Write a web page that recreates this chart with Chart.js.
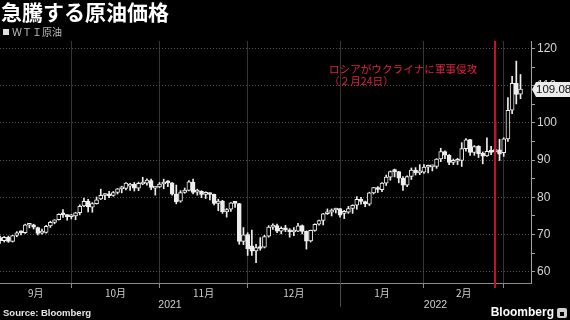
<!DOCTYPE html>
<html lang="ja">
<head>
<meta charset="utf-8">
<script src="https://cdn.jsdelivr.net/npm/chart.js@4.4.1/dist/chart.umd.min.js"></script>
<style>
  html, body { margin: 0; padding: 0; background: #000; }
  #wrap { width: 570px; height: 320px; }
</style>
</head>
<body>
<div id="wrap"><canvas id="oilChart" width="570" height="320"></canvas></div>
<script>
// WTI daily candles, Sep 7 2021 - Mar 4 2022 (trading days)
const dates = [
  "2021-09-07","2021-09-08","2021-09-09","2021-09-10","2021-09-13","2021-09-14","2021-09-15","2021-09-16","2021-09-17",
  "2021-09-20","2021-09-21","2021-09-22","2021-09-23","2021-09-24","2021-09-27","2021-09-28","2021-09-29","2021-09-30",
  "2021-10-01","2021-10-04","2021-10-05","2021-10-06","2021-10-07","2021-10-08","2021-10-11","2021-10-12","2021-10-13",
  "2021-10-14","2021-10-15","2021-10-18","2021-10-19","2021-10-20","2021-10-21","2021-10-22","2021-10-25","2021-10-26",
  "2021-10-27","2021-10-28","2021-10-29",
  "2021-11-01","2021-11-02","2021-11-03","2021-11-04","2021-11-05","2021-11-08","2021-11-09","2021-11-10","2021-11-11",
  "2021-11-12","2021-11-15","2021-11-16","2021-11-17","2021-11-18","2021-11-19","2021-11-22","2021-11-23","2021-11-24",
  "2021-11-26","2021-11-29","2021-11-30",
  "2021-12-01","2021-12-02","2021-12-03","2021-12-06","2021-12-07","2021-12-08","2021-12-09","2021-12-10","2021-12-13",
  "2021-12-14","2021-12-15","2021-12-16","2021-12-17","2021-12-20","2021-12-21","2021-12-22","2021-12-23","2021-12-27",
  "2021-12-28","2021-12-29","2021-12-30","2021-12-31",
  "2022-01-03","2022-01-04","2022-01-05","2022-01-06","2022-01-07","2022-01-10","2022-01-11","2022-01-12","2022-01-13",
  "2022-01-14","2022-01-18","2022-01-19","2022-01-20","2022-01-21","2022-01-24","2022-01-25","2022-01-26","2022-01-27",
  "2022-01-28","2022-01-31",
  "2022-02-01","2022-02-02","2022-02-03","2022-02-04","2022-02-07","2022-02-08","2022-02-09","2022-02-10","2022-02-11",
  "2022-02-14","2022-02-15","2022-02-16","2022-02-17","2022-02-18","2022-02-22","2022-02-23","2022-02-24","2022-02-25",
  "2022-02-28",
  "2022-03-01","2022-03-02","2022-03-03","2022-03-04",
];

const opens = [
  69.2, 68.4, 69.3, 68.2, 69.8, 70.5, 70.5, 72.5, 72.6, 71.9, 70.4, 70.6, 72.3, 73.3, 74.0, 75.5, 75.3, 74.8,
  75.0, 75.9, 77.7, 79.0, 77.4, 78.3, 79.6, 80.5, 80.7, 80.5, 81.3, 82.3, 82.4, 83.0, 83.5, 82.5, 83.6, 83.8, 84.5, 82.5, 82.8,
  83.6, 84.0, 83.9, 80.9, 79.0, 81.3, 81.9, 84.1, 81.4, 81.6, 80.8, 80.9, 80.8, 78.4, 79.0, 76.1, 76.8, 78.5, 78.3, 68.2, 70.0,
  67.0, 65.6, 66.6, 66.6, 69.6, 72.0, 72.4, 70.9, 71.7, 71.3, 70.7, 70.9, 72.4, 70.9, 68.3, 71.1, 72.8, 73.8, 75.6, 76.0, 76.6, 77.0,
  75.7, 76.0, 77.0, 77.9, 79.5, 78.9, 78.2, 81.2, 82.6, 82.1, 83.8, 85.4, 87.0, 86.9, 85.1, 83.3, 85.6, 87.3, 86.6, 86.8,
  88.1, 88.2, 88.3, 90.3, 92.3, 91.3, 89.4, 89.7, 89.9, 93.1, 95.5, 92.1, 93.7, 91.8, 91.1, 92.4, 92.2, 92.8, 92.0,
  95.7, 103.4, 110.6, 107.7,
];

const highs = [
  69.6, 69.5, 69.6, 69.8, 70.8, 71.0, 72.8, 73.0, 72.8, 72.0, 71.5, 72.5, 73.6, 74.0, 75.6, 76.7, 75.4, 75.4,
  76.0, 78.0, 79.8, 79.5, 78.6, 80.1, 82.2, 81.0, 81.6, 81.6, 82.4, 83.0, 84.0, 83.8, 84.0, 84.1, 85.4, 85.0, 84.9, 82.9, 84.0,
  84.9, 84.5, 84.0, 83.3, 81.8, 82.5, 84.5, 84.9, 82.2, 81.8, 81.5, 81.2, 80.9, 79.5, 79.2, 77.0, 78.6, 78.9, 78.4, 71.9, 70.5,
  71.2, 67.4, 69.2, 69.8, 72.4, 72.9, 72.8, 72.1, 72.5, 71.6, 71.9, 73.0, 72.6, 71.0, 71.2, 72.9, 73.9, 75.7, 76.9, 76.9, 77.1, 77.0,
  76.5, 77.6, 78.0, 80.2, 80.0, 79.0, 81.4, 82.7, 82.9, 84.0, 86.0, 87.1, 87.6, 87.0, 85.6, 85.8, 87.9, 88.0, 88.8, 88.8,
  88.7, 88.7, 90.4, 93.2, 92.5, 91.5, 90.3, 90.5, 94.7, 95.8, 95.6, 93.9, 93.9, 92.2, 96.0, 93.7, 100.5, 95.6, 96.0,
  106.8, 112.5, 116.6, 113.0,
];

const lows = [
  67.6, 68.0, 67.9, 68.0, 69.4, 69.9, 70.3, 71.8, 71.5, 69.9, 70.1, 70.4, 71.9, 72.9, 73.9, 74.6, 73.9, 74.2,
  74.0, 75.3, 77.5, 76.1, 76.0, 78.2, 79.4, 79.4, 79.9, 80.3, 80.9, 81.2, 82.0, 81.9, 81.7, 81.8, 83.4, 83.3, 82.1, 80.6, 82.6,
  82.3, 82.9, 80.6, 78.25, 78.7, 81.1, 81.7, 80.9, 80.6, 79.9, 79.7, 79.3, 78.0, 76.4, 75.7, 74.7, 76.2, 77.3, 67.4, 67.3, 64.4,
  64.4, 62.43, 65.8, 66.4, 69.3, 71.4, 70.5, 70.2, 70.8, 69.3, 69.7, 70.8, 70.2, 66.1, 68.0, 70.9, 72.5, 72.6, 75.4, 75.0, 75.8, 74.7,
  74.3, 75.7, 75.7, 76.8, 78.2, 77.5, 77.8, 80.9, 81.3, 81.5, 83.2, 84.6, 85.5, 83.9, 81.9, 82.9, 84.8, 86.0, 86.1, 86.4,
  86.6, 87.1, 87.8, 89.6, 90.4, 88.8, 88.8, 88.8, 88.3, 92.4, 91.3, 91.3, 90.7, 89.0, 91.0, 91.5, 92.1, 89.9, 91.0,
  95.0, 102.5, 105.1, 106.5,
];

const closes = [
  68.35, 69.30, 68.14, 69.72, 70.45, 70.46, 72.61, 72.61, 71.97, 70.29, 70.56, 72.23, 73.30, 73.98, 75.45, 75.29, 74.83, 75.03,
  75.88, 77.62, 78.93, 77.43, 78.30, 79.35, 80.52, 80.64, 80.44, 81.31, 82.28, 82.44, 83.87, 83.42, 82.50, 83.76, 83.76, 84.65, 82.66, 82.81, 83.57,
  84.05, 83.91, 80.86, 78.81, 81.27, 81.93, 84.15, 81.34, 81.59, 80.79, 80.88, 80.76, 78.36, 79.01, 76.10, 76.75, 78.50, 78.39, 68.15, 69.95, 66.18,
  65.57, 66.50, 66.26, 69.49, 72.05, 72.36, 70.94, 71.67, 71.29, 70.73, 70.87, 72.38, 70.86, 68.23, 71.12, 72.76, 73.79, 75.57, 75.98, 76.56, 76.99, 75.21,
  76.08, 76.99, 77.85, 79.46, 78.90, 78.23, 81.22, 82.64, 82.12, 83.82, 85.43, 86.96, 86.90, 85.14, 83.31, 85.60, 87.35, 86.61, 86.82, 88.15,
  88.20, 88.26, 90.27, 92.31, 91.32, 89.36, 89.66, 89.88, 93.10, 95.46, 92.07, 93.66, 91.76, 91.07, 92.35, 92.10, 92.81, 91.59, 95.72,
  103.41, 110.60, 107.67, 109.08,
];

const monthLabels = ["9月", "10月", "11月", "12月", "1月", "2月"];
const yearLabels = ["2021", "2022"];
const yTickValues = [60, 65, 70, 75, 80, 85, 90, 95, 100, 105, 110, 115, 120];
const invasionDate = "2022-02-24";

const candleColor = "#eeeeee";

// month ends -> index of the last trading day of each month
const monthEnds = [];
for (let i = 0; i < dates.length - 1; i++) {
  if (dates[i].slice(5, 7) !== dates[i + 1].slice(5, 7)) monthEnds.push(i);
}
const yearEnd = dates.findIndex((d, i) => i < dates.length - 1 && d.slice(0, 4) !== dates[i + 1].slice(0, 4));
const invasionIndex = dates.indexOf(invasionDate);

const wickData = dates.map((d, i) => ({ x: i, y: [lows[i], highs[i]] }));
const bodyData = dates.map((d, i) => ({
  x: i,
  y: [Math.min(opens[i], closes[i]), Math.max(opens[i], closes[i])],
}));

const decor = {
  id: "decor",
  beforeDraw(chart) {
    const ctx = chart.ctx;
    ctx.save();
    ctx.fillStyle = "#000";
    ctx.fillRect(0, 0, chart.width, chart.height);
    ctx.restore();
  },
  afterDatasetsDraw(chart) {
    const { ctx, chartArea, scales } = chart;
    const xs = scales.x;
    const ys = scales.y;

    // invasion marker
    const rx = Math.round(xs.getPixelForValue(invasionIndex));
    ctx.save();
    ctx.strokeStyle = "#c8102e";
    ctx.lineWidth = 2;
    ctx.beginPath();
    ctx.moveTo(rx, chartArea.top);
    ctx.lineTo(rx, chartArea.bottom + 5);
    ctx.stroke();

    ctx.fillStyle = "#e0203f";
    ctx.font = "10.6px 'Noto Sans CJK JP'";
    ctx.textBaseline = "middle";
    ctx.textAlign = "left";
    ctx.fillText("ロシアがウクライナに軍事侵攻", 329, 68.5);
    ctx.fillText("（２月24日）", 329, 80.5);

    // last price tag
    const last = closes[closes.length - 1];
    const py = Math.round(ys.getPixelForValue(last)) + 0.5;
    const ax = chartArea.right + 1;
    ctx.fillStyle = "#ececec";
    ctx.beginPath();
    ctx.moveTo(ax, py);
    ctx.lineTo(ax + 4, py - 7.5);
    ctx.lineTo(570, py - 7.5);
    ctx.lineTo(570, py + 7.5);
    ctx.lineTo(ax + 4, py + 7.5);
    ctx.closePath();
    ctx.fill();
    ctx.fillStyle = "#111";
    ctx.font = "11.5px 'Liberation Sans'";
    ctx.fillText(last.toFixed(2), ax + 4, py + 0.5);
    ctx.restore();
  },
  afterDraw(chart) {
    const { ctx, chartArea, scales } = chart;
    const xs = scales.x;
    ctx.save();

    // title + legend
    ctx.fillStyle = "#ffffff";
    ctx.font = "bold 21px 'Noto Sans CJK JP'";
    ctx.textBaseline = "alphabetic";
    ctx.textAlign = "left";
    ctx.fillText("急騰する原油価格", 1, 20);

    ctx.fillStyle = "#e0e0e0";
    ctx.fillRect(3, 29, 6, 6);
    ctx.fillStyle = "#bdbdbd";
    ctx.font = "10px 'Noto Sans CJK JP'";
    ctx.textBaseline = "middle";
    ctx.fillText("ＷＴＩ原油", 12, 32.5);

    // month labels centred between month-end lines
    const bounds = [chartArea.left].concat(monthEnds.map((v) => xs.getPixelForValue(v)));
    ctx.fillStyle = "#cfcfcf";
    ctx.font = "10px 'Noto Sans CJK JP'";
    ctx.textAlign = "center";
    monthLabels.forEach((lab, k) => {
      ctx.fillText(lab, (bounds[k] + bounds[k + 1]) / 2, 293);
    });

    // year labels
    const yx = xs.getPixelForValue(yearEnd);
    ctx.font = "10.5px 'Liberation Sans'";
    ctx.fillText(yearLabels[0], (chartArea.left + yx) / 2, 305);
    ctx.fillText(yearLabels[1], (yx + chartArea.right) / 2, 305);
    ctx.strokeStyle = "#4a4a4a";
    ctx.lineWidth = 1;
    ctx.beginPath();
    ctx.moveTo(Math.round(yx) + 0.5, chartArea.bottom);
    ctx.lineTo(Math.round(yx) + 0.5, 307);
    ctx.stroke();

    // footer
    ctx.textAlign = "left";
    ctx.fillStyle = "#e6e6e6";
    ctx.font = "bold 9.5px 'Liberation Sans'";
    ctx.fillText("Source: Bloomberg", 3, 313);

    ctx.fillStyle = "#ffffff";
    ctx.font = "bold 12px 'Liberation Sans'";
    ctx.textAlign = "right";
    ctx.fillText("Bloomberg", 554, 313);
    ctx.fillStyle = "#cfcfcf";
    ctx.beginPath();
    ctx.roundRect(557, 308, 10, 10, 2);
    ctx.fill();
    ctx.fillStyle = "#000";
    ctx.fillRect(560, 312, 4, 4);
    ctx.restore();
  },
};

const ctxOil = document.getElementById("oilChart").getContext("2d");
const oilChart = new Chart(ctxOil, {
  type: "bar",
  data: {
    datasets: [
      {
        label: "wick",
        data: wickData,
        backgroundColor: candleColor,
        borderWidth: 0,
        barThickness: 1,
        grouped: false,
        order: 2,
      },
      {
        label: "ＷＴＩ原油",
        data: bodyData,
        backgroundColor: (c) =>
          closes[c.dataIndex] >= opens[c.dataIndex] ? "#000" : candleColor,
        borderColor: candleColor,
        borderWidth: 1,
        borderSkipped: false,
        barThickness: 4,
        minBarLength: 2,
        grouped: false,
        order: 1,
      },
    ],
  },
  options: {
    responsive: false,
    animation: false,
    layout: { padding: { top: 41, bottom: 37, left: 0, right: 0 } },
    plugins: {
      legend: { display: false },
      tooltip: { enabled: false },
      title: { display: false },
    },
    scales: {
      x: {
        type: "linear",
        offset: false,
        min: 0,
        max: 126.5,
        afterBuildTicks: (axis) => {
          axis.ticks = monthEnds.map((v) => ({ value: v }));
        },
        afterFit: (axis) => {
          axis.height = 0;
        },
        ticks: { display: false },
        grid: {
          offset: false,
          color: "#353535",
          tickColor: "#8a8a8a",
          tickLength: 5,
        },
        border: { display: true, color: "#8a8a8a" },
      },
      y: {
        position: "right",
        min: 57,
        max: 122,
        afterBuildTicks: (axis) => {
          axis.ticks = yTickValues.map((v) => ({ value: v }));
        },
        afterFit: (axis) => {
          axis.width = 39;
        },
        ticks: {
          autoSkip: false,
          color: "#d6d6d6",
          padding: 2,
          font: { family: "Liberation Sans", size: 12 },
          callback: (v) => (v % 10 === 0 ? v : ""),
        },
        grid: {
          color: (c) => (c.tick && c.tick.value % 10 === 0 ? "#555555" : "rgba(0,0,0,0)"),
          tickColor: "#a0a0a0",
          tickLength: 4,
        },
        border: { display: true, color: "#a0a0a0", dash: [1, 2] },
      },
    },
  },
  plugins: [decor],
});
</script>
</body>
</html>
